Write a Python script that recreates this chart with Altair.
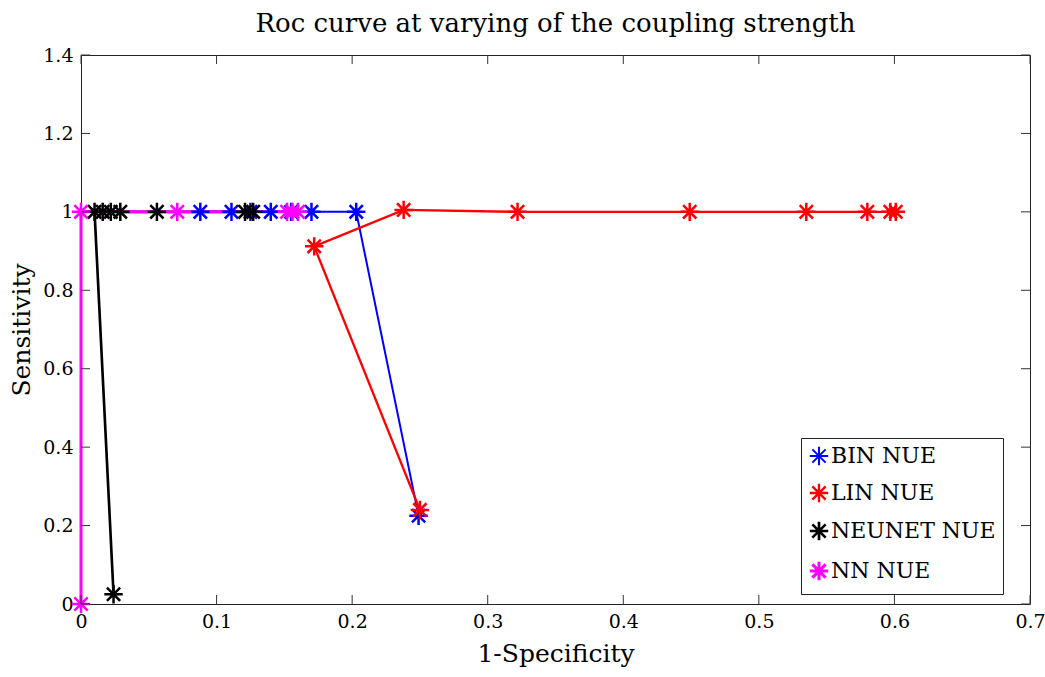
import altair as alt
import pandas as pd

series_names = ["BIN NUE", "LIN NUE", "NEUNET NUE", "NN NUE"]
series_colors = ["#0000ff", "#ff0000", "#000000", "#ff00ff"]
series_widths = [2, 3, 3, 1.6]

bin_x = [0.088, 0.111, 0.125, 0.140, 0.155, 0.170, 0.203, 0.249]
bin_y = [1.0, 1.0, 1.0, 1.0, 1.0, 1.0, 1.0, 0.225]

lin_x = [0.250, 0.172, 0.238, 0.322, 0.449, 0.535, 0.580, 0.597, 0.601]
lin_y = [0.240, 0.912, 1.005, 1.000, 1.000, 1.000, 1.000, 1.000, 1.000]

neu_x = [0.024, 0.010, 0.016, 0.022, 0.029, 0.056, 0.121, 0.127]
neu_y = [0.025, 1.0, 1.0, 1.0, 1.0, 1.0, 1.0, 1.0]

nn_x = [0.0, 0.0, 0.071, 0.152, 0.156, 0.160]
nn_y = [0.0, 1.0, 1.0, 1.0, 1.0, 1.0]

x_ticks = [0, 0.1, 0.2, 0.3, 0.4, 0.5, 0.6, 0.7]
y_ticks = [0, 0.2, 0.4, 0.6, 0.8, 1.0, 1.2, 1.4]

rows = []
for name, xs_, ys_ in zip(series_names, [bin_x, lin_x, neu_x, nn_x], [bin_y, lin_y, neu_y, nn_y]):
    for i, (xv, yv) in enumerate(zip(xs_, ys_)):
        rows.append({"series": name, "order": i, "x": xv, "y": yv})
df = pd.DataFrame(rows)

W, H = 949, 549
FONT = "DejaVu Serif"
ASTERISK = "M-1,0L1,0M0,-1L0,1M-0.72,-0.72L0.72,0.72M-0.72,0.72L0.72,-0.72"

xs = alt.Scale(domain=[0, 0.7], nice=False, zero=False)
ys = alt.Scale(domain=[0, 1.4], nice=False, zero=False)
cs = alt.Scale(domain=series_names, range=series_colors)

legend = alt.Legend(
    title=None, orient="none", legendX=720, legendY=383,
    symbolType=ASTERISK, symbolSize=340, symbolStrokeWidth=2.5,
    symbolFillColor="transparent", symbolOpacity=1,
    labelFont=FONT, labelFontSize=22, labelColor="#000",
    strokeColor="#222", fillColor="white", padding=7, rowPadding=9,
    labelOffset=1, labelLimit=300,
)

x_enc = alt.X("x:Q", scale=xs, axis=alt.Axis(values=x_ticks, format="~g", title="1-Specificity",
                                             titlePadding=10, labelFlush=False))
y_enc = alt.Y("y:Q", scale=ys, axis=alt.Axis(values=y_ticks, format="~g", title="Sensitivity",
                                             titlePadding=8, labelFlush=False))

lines = alt.Chart(df).mark_line().encode(
    x=x_enc,
    y=y_enc,
    color=alt.Color("series:N", scale=cs, legend=legend),
    strokeWidth=alt.StrokeWidth("series:N", scale=alt.Scale(domain=series_names, range=series_widths), legend=None),
    order="order:Q",
)

points = alt.Chart(df).mark_point(shape=ASTERISK, filled=False, size=340, strokeWidth=2.5, opacity=1).encode(
    x=alt.X("x:Q", scale=xs),
    y=alt.Y("y:Q", scale=ys),
    color=alt.Color("series:N", scale=cs, legend=legend),
)

tdf_y = pd.DataFrame({"v": y_ticks})
tdf_x = pd.DataFrame({"v": x_ticks})
tick_left = alt.Chart(tdf_y).mark_rule(color="#333", strokeWidth=1).encode(
    y=alt.Y("v:Q", scale=ys), x=alt.value(0), x2=alt.value(9))
tick_right = alt.Chart(tdf_y).mark_rule(color="#333", strokeWidth=1).encode(
    y=alt.Y("v:Q", scale=ys), x=alt.value(W - 9), x2=alt.value(W))
tick_bottom = alt.Chart(tdf_x).mark_rule(color="#333", strokeWidth=1).encode(
    x=alt.X("v:Q", scale=xs), y=alt.value(H - 9), y2=alt.value(H))
tick_top = alt.Chart(tdf_x).mark_rule(color="#333", strokeWidth=1).encode(
    x=alt.X("v:Q", scale=xs), y=alt.value(0), y2=alt.value(9))

chart = alt.layer(lines, points, tick_left, tick_right, tick_bottom, tick_top).properties(
    width=W, height=H,
    background="white",
    title=alt.TitleParams("Roc curve at varying of the coupling strength", font=FONT, fontSize=26,
                          fontWeight="normal", color="#000", anchor="middle", offset=9),
    autosize=alt.AutoSizeParams(type="none"),
    padding={"left": 81, "top": 55, "right": 15, "bottom": 73},
).configure_view(stroke="#222", strokeWidth=1).configure_axis(
    grid=False, domain=False, ticks=False,
    labelFont=FONT, labelFontSize=19, labelColor="#000", labelPadding=8,
    titleFont=FONT, titleFontSize=25, titleFontWeight="normal", titleColor="#000",
)

chart.save("out.html", embed_options={"renderer": "svg", "actions": False})
